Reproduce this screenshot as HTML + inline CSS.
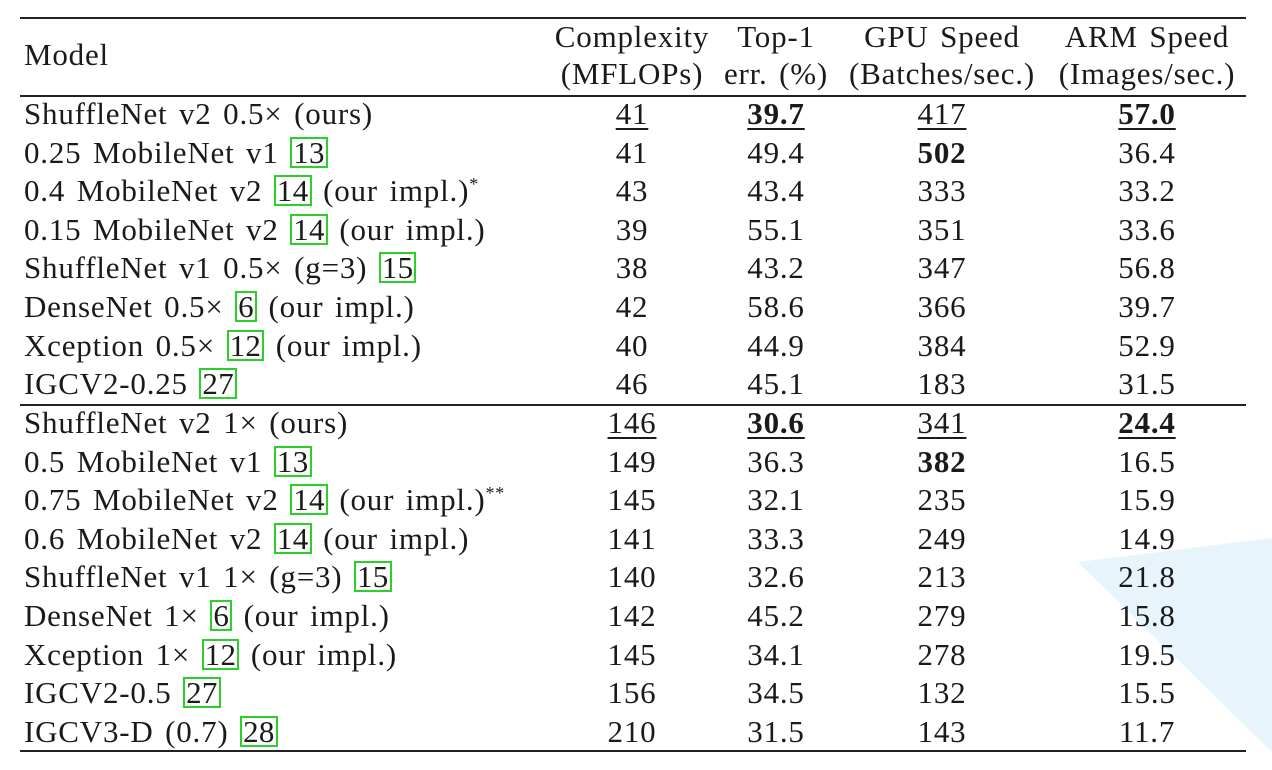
<!DOCTYPE html>
<html><head><meta charset="utf-8"><style>
body{margin:0;width:1272px;height:770px;background:#fff;position:relative;overflow:hidden;font-family:"Liberation Serif",serif;color:#1a1a1a}
.bg{position:absolute;left:0;top:0}
.rule{position:absolute;left:20px;width:1226px;background:#222}
.t{position:absolute;font-size:31px;line-height:34px;white-space:nowrap;letter-spacing:0.8px;word-spacing:3px}
.c{transform:translateX(-50%)}
.ref{border:2px solid #2bd12b;padding:0 1px;line-height:27px;display:inline-block;letter-spacing:0.3px}
.u{text-decoration:underline;text-decoration-thickness:1.5px;text-underline-offset:4px}
b{font-weight:bold}
sup{font-size:18px;vertical-align:11px;line-height:0}
</style></head><body>
<svg class="bg" width="1272" height="770"><polygon points="1078,562 1272,538 1272,752" fill="#e8f4fb"/></svg>
<div class="rule" style="top:17px;height:2px"></div>
<div class="rule" style="top:95px;height:1.5px"></div>
<div class="rule" style="top:404px;height:1.5px"></div>
<div class="rule" style="top:750px;height:2px"></div>
<div class="t" style="left:24px;top:38px">Model</div>
<div class="t c" style="left:632px;top:20px">Complexity</div>
<div class="t c" style="left:632px;top:57px">(MFLOPs)</div>
<div class="t c" style="left:776px;top:20px">Top-1</div>
<div class="t c" style="left:776px;top:57px">err. (%)</div>
<div class="t c" style="left:942px;top:20px">GPU Speed</div>
<div class="t c" style="left:942px;top:57px">(Batches/sec.)</div>
<div class="t c" style="left:1147px;top:20px">ARM Speed</div>
<div class="t c" style="left:1147px;top:57px">(Images/sec.)</div>
<div id="rows"></div>
<script>
const models=[
'ShuffleNet v2 0.5× (ours)','0.25 MobileNet v1 [13]','0.4 MobileNet v2 [14] (our impl.)<sup>*</sup>','0.15 MobileNet v2 [14] (our impl.)','ShuffleNet v1 0.5× (g=3) [15]','DenseNet 0.5× [6] (our impl.)','Xception 0.5× [12] (our impl.)','IGCV2-0.25 [27]',
'ShuffleNet v2 1× (ours)','0.5 MobileNet v1 [13]','0.75 MobileNet v2 [14] (our impl.)<sup>**</sup>','0.6 MobileNet v2 [14] (our impl.)','ShuffleNet v1 1× (g=3) [15]','DenseNet 1× [6] (our impl.)','Xception 1× [12] (our impl.)','IGCV2-0.5 [27]','IGCV3-D (0.7) [28]'];
const complexity=['<span class="u">41</span>','41','43','39','38','42','40','46','<span class="u">146</span>','149','145','141','140','142','145','156','210'];
const top1=['<b class="u">39.7</b>','49.4','43.4','55.1','43.2','58.6','44.9','45.1','<b class="u">30.6</b>','36.3','32.1','33.3','32.6','45.2','34.1','34.5','31.5'];
const gpu=['<span class="u">417</span>','<b>502</b>','333','351','347','366','384','183','<span class="u">341</span>','<b>382</b>','235','249','213','279','278','132','143'];
const arm=['<b class="u">57.0</b>','36.4','33.2','33.6','56.8','39.7','52.9','31.5','<b class="u">24.4</b>','16.5','15.9','14.9','21.8','15.8','19.5','15.5','11.7'];
const root=document.getElementById('rows');
models.forEach((m,i)=>{
  const y=(i<8?97+i*38.6:406+(i-8)*38.6);
  const cells=[[m.replace(/\[(\d+)\]/g,'<span class="ref">$1</span>'),24,false,'model'],[complexity[i],632,true,'complexity'],[top1[i],776,true,'top1'],[gpu[i],942,true,'gpu-speed'],[arm[i],1147,true,'arm-speed']];
  cells.forEach(([h,x,c,n])=>{
    const d=document.createElement('div');
    d.className='t'+(c?' c':'');
    d.style.left=x+'px';d.style.top=y+'px';
    d.innerHTML=h;
    
    
    root.appendChild(d);
  });
});
</script>
</body></html>
